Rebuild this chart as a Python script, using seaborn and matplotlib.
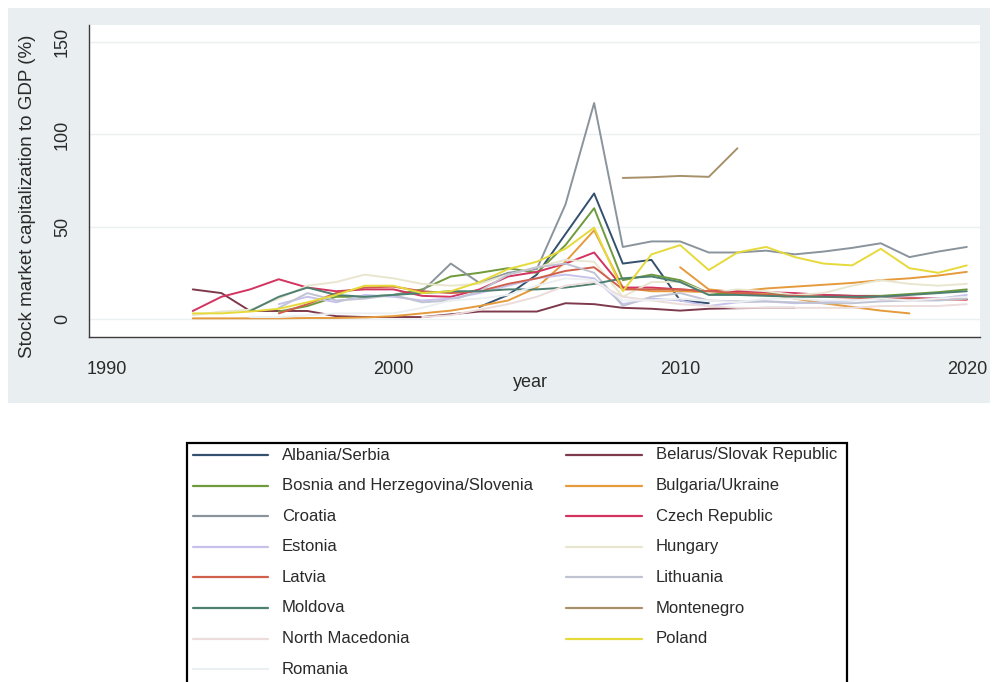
import numpy as np
import pandas as pd
import matplotlib
matplotlib.use("Agg")
import matplotlib.pyplot as plt
import seaborn as sns
from matplotlib.lines import Line2D
from matplotlib.patches import Rectangle

sns.set_style("white")
plt.rcParams["font.family"] = ["Liberation Sans", "DejaVu Sans"]

N = np.nan
years = list(range(1993, 2021))

albania_serbia = [N]*10 + [6.5, 13, 24, 46, 68, 30, 32, 10, 8.5] + [N]*9
belarus_slovak = [16, 14, 4.3, 4.3, 4.3, 1.5, 1, 1, 1, 2.5, 4, 4, 4, 8.5, 8, 6, 5.5, 4.5, 5.5, 5.8, 6, 6] + [N]*6
bosnia_slovenia = [N]*3 + [4, 7, 12, 12, 13, 16, 23, 25, 27.5, 25, 40, 60, 21, 24, 21, 14, 14, 13.5, 13.5, 13, 12.5, 12.5, 13.5, 14.5, 16]
bulgaria = [0.3, 0.3, 0.3, 0.3, 0.5, 0.5, 0.8, 1.5, 3, 4.5, 7, 10, 17, 31, 48, 17, 15, 15, 14.5, 15, 16.5, 17.5, 18.5, 19.5, 21, 22, 23.5, 25.5]
ukraine = [N]*17 + [28, 16, 14.5, 13.5, 11, 8.5, 6.5, 4.5, 3] + [N]*2
croatia = [N]*7 + [13, 15, 30, 19.5, 25, 27, 62, 117, 39, 42, 42, 36, 36, 37, 35, 36.5, 38.5, 41, 33.5, 36.5, 39]
czech = [4.3, 12, 16, 21.5, 17, 15, 16, 16, 12.5, 12, 16, 23, 25.5, 30, 36, 17, 17, 16, 15, 15, 14.5, 14, 13, 12.5, 12, 11.5, 11, 10.5]
estonia = [N]*3 + [8, 12, 9, 13, 12, 10, 11, 14, 18, 22, 24, 22, 8, 11, 10, 7, 9, 9.5, 8.5, 9, 10, 12, 11, 11, 13]
hungary = [2, 4, 5, 11, 18, 20, 24, 22, 19, 18, 19, 24, 28, 32, 31, 12, 20, 20, 14, 16, 15, 13, 14, 18, 21, 19, 18, 19]
latvia = [N]*3 + [3, 8, 14, 17, 17.5, 15, 14, 15, 19, 22, 26, 28, 16, 16, 16, 15, 14, 13, 12.5, 12, 11.5, 11, 11, 10.5, 10.5]
lithuania = [N]*3 + [6, 14, 10, 11, 13, 9, 10, 15, 24, 28, 30, 25, 7, 12, 14, 10, 9.5, 9.5, 9, 8.5, 8.5, 9.5, 10, 10, 11]
moldova = [N]*2 + [4.3, 12, 17, 13, 12, 13, 14, 15, 15, 16, 16, 17, 19, 22, 23, 20, 13, 13, 12.5, 12, 12, 12, 12, 13, 14, 15]
montenegro = [N]*15 + [76.4, 76.8, 77.5, 77, 92.5] + [N]*8
north_macedonia = [N]*8 + [1, 2, 5, 8, 12, 18, 20, 12, 10, 8, 7, 6, 6, 6, 6, 6, 7, 7, 7, 8]
poland = [3, 3, 4, 5.5, 9, 13, 18, 18, 14, 15, 20, 27, 31, 38, 49.5, 15, 35, 40, 26.5, 36, 39, 33.5, 30, 29, 38, 27.5, 25, 29]
romania = [N]*2 + [1, 1, 2, 3, 3, 3, 6, 10, 11, 13, 18, 22, 21, 10, 10, 11, 10, 9, 11, 11, 10, 10, 11, 10, 11, 12]

legend_labels = ["Albania/Serbia", "Belarus/Slovak Republic", "Bosnia and Herzegovina/Slovenia",
                 "Bulgaria/Ukraine", "Croatia", "Czech Republic", "Estonia", "Hungary", "Latvia",
                 "Lithuania", "Moldova", "Montenegro", "North Macedonia", "Poland", "Romania"]
legend_colors = ["#34506f", "#7e3a4c", "#6f9a3c", "#e59a3c", "#8a949c", "#d2335f", "#c6c2ec",
                 "#e9e6d0", "#d0604c", "#c0c3d2", "#4d8070", "#a8916a", "#ecdcdc", "#e6da3a", "#eceff1"]
color_of = dict(zip(legend_labels, legend_colors))

series = [
    ("Albania/Serbia", "Albania/Serbia", albania_serbia),
    ("Belarus/Slovak Republic", "Belarus/Slovak Republic", belarus_slovak),
    ("Bosnia and Herzegovina/Slovenia", "Bosnia and Herzegovina/Slovenia", bosnia_slovenia),
    ("Bulgaria", "Bulgaria/Ukraine", bulgaria),
    ("Ukraine", "Bulgaria/Ukraine", ukraine),
    ("Croatia", "Croatia", croatia),
    ("Czech Republic", "Czech Republic", czech),
    ("Estonia", "Estonia", estonia),
    ("Hungary", "Hungary", hungary),
    ("Latvia", "Latvia", latvia),
    ("Lithuania", "Lithuania", lithuania),
    ("Moldova", "Moldova", moldova),
    ("Montenegro", "Montenegro", montenegro),
    ("North Macedonia", "North Macedonia", north_macedonia),
    ("Poland", "Poland", poland),
    ("Romania", "Romania", romania),
]

rows = []
for name, grp, vals in series:
    for yr, v in zip(years, vals):
        if not np.isnan(v):
            rows.append({"year": yr, "value": v, "series": name})
df = pd.DataFrame(rows)
hue_order = [s[0] for s in series]
palette = {s[0]: color_of[s[1]] for s in series}

W, H = 993, 682
fig = plt.figure(figsize=(W / 100, H / 100), dpi=100)
fig.patch.set_facecolor("white")
fig.add_artist(Rectangle((8 / W, 1 - 403 / H), (990 - 8) / W, (403 - 8) / H,
                         transform=fig.transFigure, facecolor="#e9eff1", edgecolor="none", zorder=0))

ax = fig.add_axes([89 / W, 1 - 337 / H, (980 - 89) / W, (337 - 25) / H])
ax.set_facecolor("white")
ax.set_zorder(1)

for yv in [0, 50, 100, 150]:
    ax.axhline(yv, color="#eaf1f3", lw=1.0, zorder=0)

sns.lineplot(data=df, x="year", y="value", hue="series", hue_order=hue_order,
             palette=palette, estimator=None, sort=True, legend=False,
             linewidth=1.4, ax=ax)

ax.set_xlim(1989.38, 2020.46)
ax.set_ylim(-9.8, 159.3)
ax.set_xticks([1990, 2000, 2010, 2020])
ax.set_yticks([0, 50, 100, 150])
ax.set_yticklabels(["0", "50", "100", "150"], rotation=90, va="center")
for s in ["top", "right"]:
    ax.spines[s].set_visible(False)
for s in ["left", "bottom"]:
    ax.spines[s].set_color("#3c3c3c")
    ax.spines[s].set_linewidth(1.0)
ax.tick_params(axis="both", direction="out", length=5, width=1, color="#3c3c3c",
               labelsize=13, labelcolor="#2a2a2a")
ax.tick_params(axis="y", pad=8)
ax.tick_params(axis="x", pad=12)
ax.set_xlabel("year", fontsize=13, color="#2a2a2a")
ax.set_ylabel("Stock market capitalization to GDP (%)", fontsize=13.5, color="#2a2a2a")
ax.xaxis.set_label_coords(0.495, -0.12)
ax.yaxis.set_label_coords(-0.06, 0.45)

# legend
fig.add_artist(Rectangle((187 / W, -0.05), (847 - 187) / W, 1 - 443 / H + 0.05,
                         transform=fig.transFigure, facecolor="white", edgecolor="black",
                         lw=1.6, zorder=2))
row_y = [455 + 30.6 * i for i in range(8)]
for i, lab in enumerate(legend_labels):
    col, row = i % 2, i // 2
    y = 1 - row_y[row] / H
    if col == 0:
        x0, x1, xt = 193, 268, 282
    else:
        x0, x1, xt = 566, 642, 656
    fig.add_artist(Line2D([x0 / W, x1 / W], [y, y], transform=fig.transFigure,
                          color=color_of[lab], lw=1.6, zorder=3))
    fig.text(xt / W, y, lab, fontsize=12, color="#2a2a2a", va="center", ha="left", zorder=3)

fig.savefig("out.png", dpi=100)
